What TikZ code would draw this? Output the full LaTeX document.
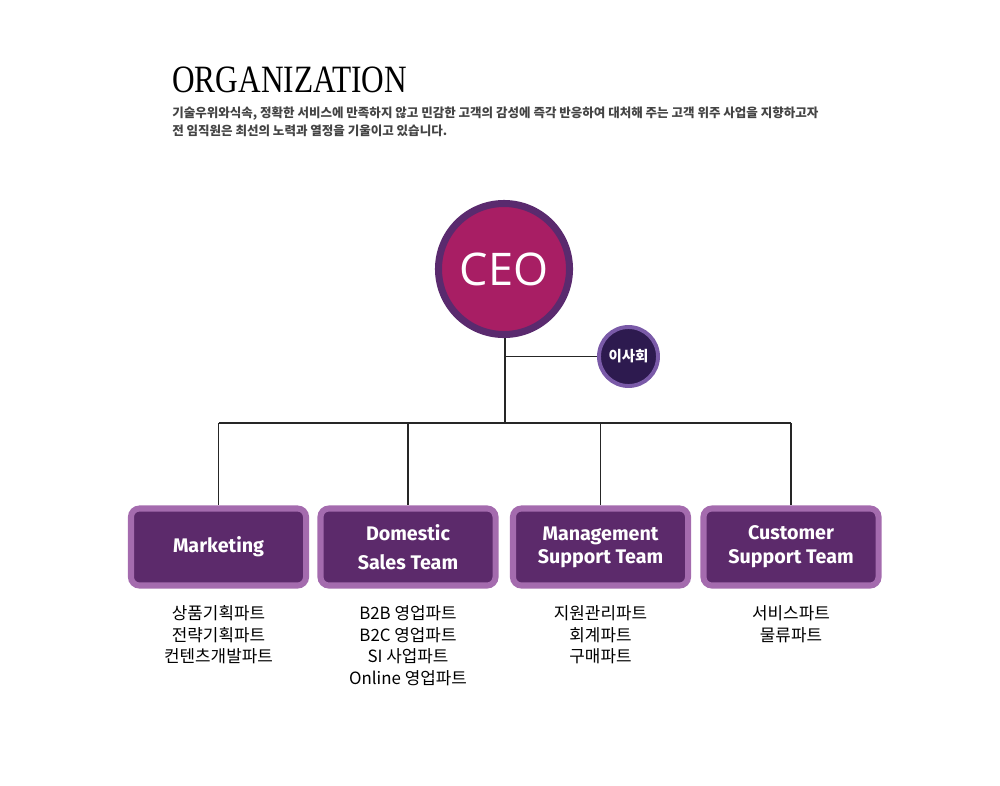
\documentclass[tikz,border=0pt]{standalone}
\usepackage{fontspec}
\setmainfont{Liberation Serif}
\newfontfamily\krfont{Noto Sans CJK KR}
\newfontfamily\teamfont{Fira Sans}
\newfontfamily\ceofont{Open Sans}
\usetikzlibrary{positioning}
\definecolor{ceofill}{HTML}{A81E64}
\definecolor{ceoring}{HTML}{5A2A6E}
\definecolor{boardfill}{HTML}{2D1A4F}
\definecolor{boardring}{HTML}{7A5AA8}
\definecolor{teamfill}{HTML}{5C2A6B}
\definecolor{teamring}{HTML}{A46BAE}
\definecolor{introgray}{HTML}{444444}
\tikzset{
  ceo/.style={circle, draw=ceoring, fill=ceofill, line width=5pt, minimum size=3.275cm,
    inner sep=0pt, text=white, font=\ceofont\fontsize{32}{36}\selectfont},
  board/.style={circle, draw=boardring, fill=boardfill, line width=2.8pt, minimum size=1.475cm,
    inner sep=0pt, text=white, font=\krfont\bfseries\fontsize{10.3}{12}\selectfont},
  teambox/.style={rectangle, rounded corners=6pt, draw=teamring, fill=teamfill, line width=4.3pt,
    minimum width=4.375cm, minimum height=1.925cm, inner sep=0pt, align=center, text=white,
    font=\teamfont\bfseries\fontsize{14}{16.5}\selectfont},
  parts/.style={align=center, inner sep=0pt, font=\krfont\fontsize{12}{15.3}\selectfont},
  link/.style={line width=0.8pt, draw=black!85}
}
\begin{document}
\begin{tikzpicture}[x=0.025cm, y=-0.025cm]
    \useasboundingbox (0,0) rectangle (1000,785);
    % heading
    \node[anchor=base west, inner sep=0pt] (title) at (172,92)
        {\fontsize{27.5}{30}\selectfont\scalebox{0.81}[1]{ORGANIZATION}};
    \node[anchor=base west, inner sep=0pt, align=left, text=introgray,
        font=\krfont\bfseries\fontsize{8.9}{12.8}\selectfont] (intro) at (172,135)
        {기술우위와식속, 정확한 서비스에 만족하지 않고 민감한 고객의 감성에 즉각 반응하여 대처해 주는 고객 위주 사업을 지향하고자\\
         전 임직원은 최선의 노력과 열정을 기울이고 있습니다.};
    % top
    \node[ceo] (ceo) at (504,269) {CEO};
    \node[board] (board) at (628.5,356.5) {이사회};
    % teams
    \node[teambox] (mkt) at (218.5,547) {Marketing};
    \node[teambox, font=\teamfont\bfseries\fontsize{14}{20.5}\selectfont] (sales) at (408,547) {Domestic\\Sales Team};
    \node[teambox] (mgmt) at (600.5,547) {Management\\Support Team};
    \node[teambox, font=\teamfont\bfseries\fontsize{14}{17}\selectfont] (cust) at (791,547) {Customer\\Support Team};
    % parts
    \node[parts, below=0.42cm of mkt] (mktparts) {상품기획파트\\전략기획파트\\컨텐츠개발파트};
    \node[parts, below=0.42cm of sales] (salesparts) {B2B 영업파트\\B2C 영업파트\\SI 사업파트\\Online 영업파트};
    \node[parts, below=0.42cm of mgmt] (mgmtparts) {지원관리파트\\회계파트\\구매파트};
    \node[parts, below=0.42cm of cust] (custparts) {서비스파트\\물류파트};
    % lines
    \coordinate (bus) at (505,423);
    \coordinate (jn) at (bus |- board);
    \draw[link] (ceo.south -| bus) -- (bus);
    \draw[link] (jn) -- (board.west);
    \draw[link] (mkt.north |- bus) -- (cust.north |- bus);
    \foreach \t in {mkt,sales,mgmt,cust}
        \draw[link] (\t.north |- bus) -- (\t.north);
\end{tikzpicture}
\end{document}
